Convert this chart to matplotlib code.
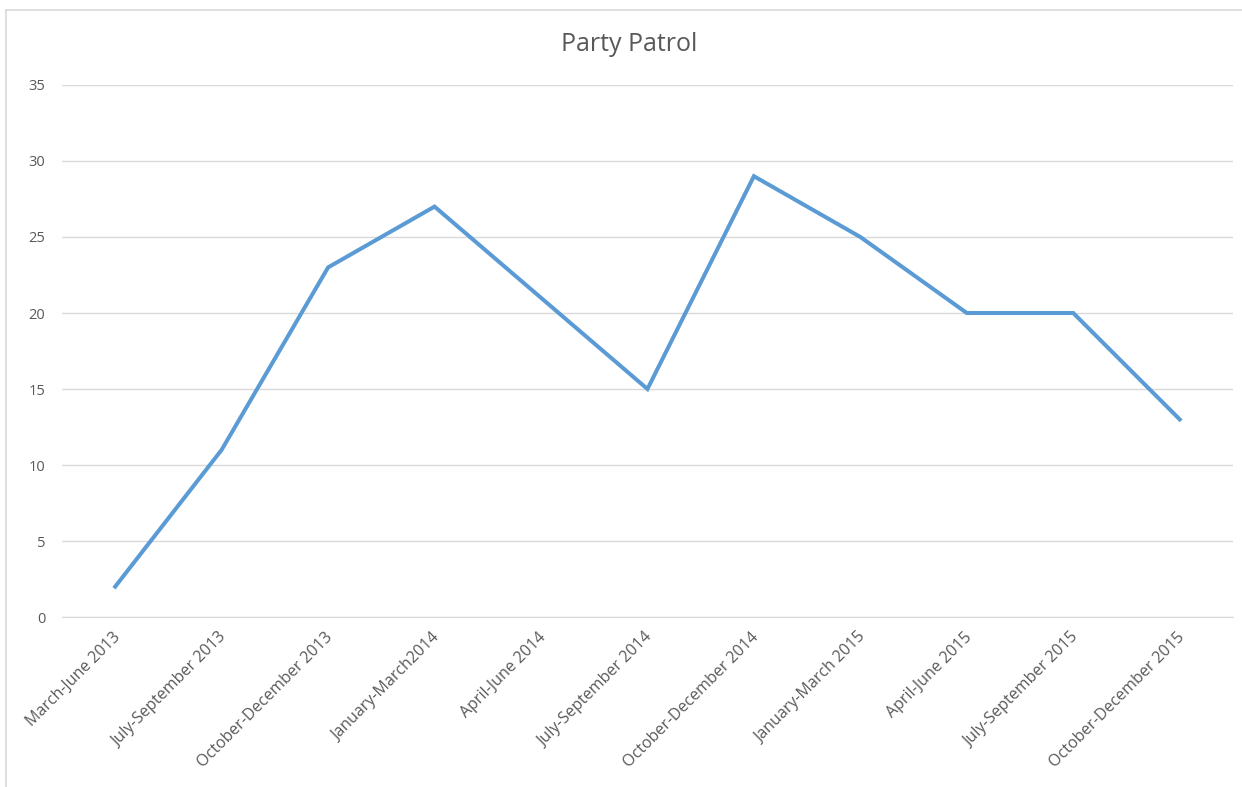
import matplotlib.pyplot as plt
import matplotlib.transforms as mtransforms
from matplotlib.lines import Line2D

periods = [
    "March-June 2013",
    "July-September 2013",
    "October-December 2013",
    "January-March2014",
    "April-June 2014",
    "July-September 2014",
    "October-December 2014",
    "January-March 2015",
    "April-June 2015",
    "July-September 2015",
    "October-December 2015",
]
counts = [2, 11, 23, 27, 21, 15, 29, 25, 20, 20, 13]
y_ticks = [0, 5, 10, 15, 20, 25, 30, 35]

text_color = "#595959"
grid_color = "#D9D9D9"
line_color = "#5B9BD5"

plt.rcParams["font.family"] = ["Open Sans", "DejaVu Sans"]

fig = plt.figure(figsize=(12.42, 7.87), dpi=100, facecolor="white")
ax = fig.add_axes([0.0499, 0.216, 0.9428, 0.676])

x = list(range(len(periods)))
ax.plot(x, counts, color=line_color, linewidth=2.9, solid_joinstyle="miter", zorder=3)

ax.set_xlim(-0.5, len(periods) - 0.5)
ax.set_ylim(0, 35)
ax.set_yticks(y_ticks)
ax.set_xticks(x)
ax.set_xticklabels(periods, rotation=45, ha="right", rotation_mode="anchor")

ax.grid(axis="y", color=grid_color, linewidth=1.0)
ax.set_axisbelow(True)
for side in ["top", "right", "left", "bottom"]:
    ax.spines[side].set_visible(False)
ax.spines["bottom"].set_visible(True)
ax.spines["bottom"].set_color(grid_color)
ax.tick_params(axis="y", length=0, colors=text_color, labelsize=10.5, pad=12)
ax.tick_params(axis="x", length=0, colors=text_color, labelsize=11.5, pad=9)

# nudge the slanted category labels a little to the left
shift = mtransforms.ScaledTranslation(-3 / 100, 0, fig.dpi_scale_trans)
for lbl in ax.get_xticklabels():
    lbl.set_transform(lbl.get_transform() + shift)

fig.text(0.5068, 0.944, "Party Patrol", ha="center", va="center",
         fontsize=18, color=text_color)

# thin frame along the top and left edges
fig.add_artist(Line2D([0.005, 1.0], [0.987, 0.987], color=grid_color, linewidth=1.2,
                      transform=fig.transFigure))
fig.add_artist(Line2D([0.005, 0.005], [0.0, 0.987], color=grid_color, linewidth=1.2,
                      transform=fig.transFigure))

plt.savefig("out.png", dpi=100, facecolor="white")
